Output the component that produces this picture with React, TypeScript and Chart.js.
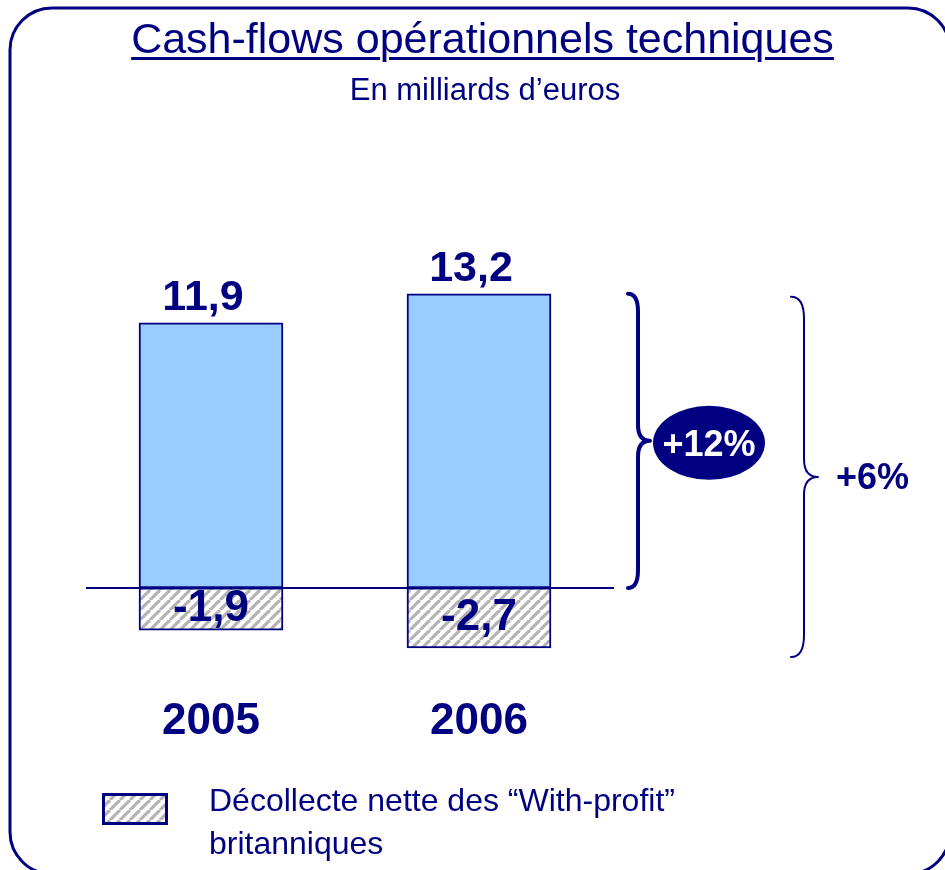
import React, { useEffect, useRef } from "react";
import { Chart, registerables } from "chart.js";

Chart.register(...registerables);

// ---- Data ----
const YEARS = ["2005", "2006"];
const OPERATING_CASH_FLOWS = [11.9, 13.2];
const WITH_PROFIT_OUTFLOWS = [-1.9, -2.7];
const GROWTH_LABELS = ["+12%", "+6%"];
const Y_MIN = -4;
const Y_MAX = 14;

const TITLE = "Cash-flows opérationnels techniques";
const SUBTITLE = "En milliards d\u2019euros";
const LEGEND_LINES = ["Décollecte nette des \u201cWith-profit\u201d", "britanniques"];

const NAVY = "#000080";
const LIGHT_BLUE = "#99CCFF";
const FONT = '"Liberation Sans", Arial, Helvetica, sans-serif';

const fmt = (v: number) => v.toFixed(1).replace(".", ",");

function makeHatch(): CanvasPattern | string {
  const s = 10;
  const c = document.createElement("canvas");
  c.width = s;
  c.height = s;
  const g = c.getContext("2d");
  if (!g) return "#ccc";
  g.fillStyle = "#ffffff";
  g.fillRect(0, 0, s, s);
  g.strokeStyle = "#b4b4b4";
  g.lineWidth = 3.2;
  for (let k = -1; k <= 1; k++) {
    g.beginPath();
    g.moveTo(k * s, s);
    g.lineTo(k * s + s, 0);
    g.stroke();
  }
  const p = g.createPattern(c, "repeat");
  return p || "#ccc";
}

function brace(
  ctx: CanvasRenderingContext2D,
  xL: number,
  xS: number,
  xT: number,
  y1: number,
  y2: number,
  rEnd: number,
  rMid: number,
  lw: number
) {
  const ym = (y1 + y2) / 2;
  ctx.save();
  ctx.strokeStyle = NAVY;
  ctx.lineWidth = lw;
  ctx.lineCap = "round";
  ctx.lineJoin = "round";
  ctx.beginPath();
  ctx.moveTo(xL, y1);
  ctx.quadraticCurveTo(xS, y1, xS, y1 + rEnd);
  ctx.lineTo(xS, ym - rMid);
  ctx.quadraticCurveTo(xS, ym, xT, ym);
  ctx.quadraticCurveTo(xS, ym, xS, ym + rMid);
  ctx.lineTo(xS, y2 - rEnd);
  ctx.quadraticCurveTo(xS, y2, xL, y2);
  ctx.stroke();
  ctx.restore();
}

export default function App() {
  const ref = useRef<HTMLCanvasElement | null>(null);

  useEffect(() => {
    if (!ref.current) return;
    const hatch = makeHatch();

    const decorPlugin = {
      id: "decor",
      beforeDraw(chart: any) {
        const ctx: CanvasRenderingContext2D = chart.ctx;
        ctx.save();
        ctx.fillStyle = "#ffffff";
        ctx.fillRect(0, 0, chart.width, chart.height);
        ctx.strokeStyle = NAVY;
        ctx.lineWidth = 3;
        ctx.beginPath();
        (ctx as any).roundRect(10, 8, 940, 866, 42);
        ctx.stroke();
        ctx.restore();
      },
      afterDatasetsDraw(chart: any) {
        const ctx: CanvasRenderingContext2D = chart.ctx;
        const xs = chart.scales.x;
        const ys = chart.scales.y;
        const area = chart.chartArea;
        const y0 = ys.getPixelForValue(0);

        ctx.save();
        // zero line
        ctx.strokeStyle = NAVY;
        ctx.lineWidth = 2;
        ctx.beginPath();
        ctx.moveTo(area.left + 9, y0);
        ctx.lineTo(area.right + 1, y0);
        ctx.stroke();

        ctx.fillStyle = NAVY;
        ctx.textAlign = "center";
        ctx.textBaseline = "alphabetic";

        // positive labels
        ctx.font = `bold 43px ${FONT}`;
        OPERATING_CASH_FLOWS.forEach((v, i) => {
          const cx = xs.getPixelForValue(i);
          const top = ys.getPixelForValue(v);
          ctx.fillText(fmt(v), cx - 8, top - 13);
        });

        // negative labels
        ctx.font = `bold 44px ${FONT}`;
        WITH_PROFIT_OUTFLOWS.forEach((v, i) => {
          const cx = xs.getPixelForValue(i);
          const bot = ys.getPixelForValue(v);
          const mid = (y0 + bot) / 2;
          ctx.fillText(fmt(v), cx, mid - 3 + 15);
        });

        // category labels
        ctx.font = `bold 44px ${FONT}`;
        const yb = ys.getPixelForValue(Y_MIN);
        YEARS.forEach((lab, i) => {
          ctx.fillText(lab, xs.getPixelForValue(i), yb + 57);
        });

        // growth braces
        const yTop = ys.getPixelForValue(OPERATING_CASH_FLOWS[1]);
        const yNeg = ys.getPixelForValue(WITH_PROFIT_OUTFLOWS[1]);
        const r = area.right;
        brace(ctx, r + 15, r + 25, r + 37, yTop, y0, 18, 16, 4);
        brace(ctx, r + 178, r + 191, r + 205, yTop + 3, yNeg + 9, 22, 18, 2);

        // +12% ellipse
        const m1 = (yTop + y0) / 2 + 2;
        const ex = r + 96;
        ctx.fillStyle = NAVY;
        ctx.beginPath();
        ctx.ellipse(ex, m1, 56, 37, 0, 0, Math.PI * 2);
        ctx.fill();
        ctx.fillStyle = "#ffffff";
        ctx.font = `bold 36px ${FONT}`;
        ctx.textAlign = "center";
        ctx.fillText(GROWTH_LABELS[0], ex, m1 + 13);

        // +6%
        const m2 = (yTop + 3 + yNeg + 9) / 2;
        ctx.fillStyle = NAVY;
        ctx.font = `bold 36px ${FONT}`;
        ctx.textAlign = "left";
        ctx.fillText(GROWTH_LABELS[1], r + 223, m2 + 12);

        // legend swatch
        ctx.fillStyle = hatch as any;
        ctx.fillRect(102, 793, 66, 32);
        ctx.strokeStyle = NAVY;
        ctx.lineWidth = 3;
        ctx.strokeRect(103.5, 794.5, 63, 29);
        ctx.restore();
      },
    };

    const chart = new Chart(ref.current, {
      type: "bar",
      data: {
        labels: YEARS,
        datasets: [
          {
            label: "Cash-flows opérationnels techniques",
            data: OPERATING_CASH_FLOWS,
            backgroundColor: LIGHT_BLUE,
            borderColor: NAVY,
            borderWidth: 2,
            borderSkipped: false,
            barThickness: 144,
          },
          {
            label: LEGEND_LINES.join(" "),
            data: WITH_PROFIT_OUTFLOWS,
            backgroundColor: hatch as any,
            borderColor: NAVY,
            borderWidth: 2,
            borderSkipped: false,
            barThickness: 144,
          },
        ],
      },
      options: {
        responsive: false,
        animation: false,
        devicePixelRatio: 1,
        layout: { padding: { left: 77, right: 332, top: 276, bottom: 193 } },
        plugins: {
          legend: { display: false },
          title: { display: false },
          tooltip: { enabled: false },
        },
        scales: {
          x: { display: false, stacked: true },
          y: { display: false, stacked: true, min: Y_MIN, max: Y_MAX },
        },
      },
      plugins: [decorPlugin],
    });

    return () => chart.destroy();
  }, []);

  return (
    <div style={{ position: "absolute", left: 0, top: 0, width: 945, height: 870, overflow: "hidden", background: "#fff" }}>
      <canvas ref={ref} width={945} height={870} style={{ position: "absolute", left: 0, top: 0, width: 945, height: 870 }} />
      <div
        style={{
          position: "absolute",
          left: 0,
          top: 17,
          width: 965,
          textAlign: "center",
          font: `43px ${FONT}`,
          lineHeight: "43px",
          color: NAVY,
          whiteSpace: "nowrap",
          textDecoration: "underline",
          textDecorationThickness: "3px",
          textUnderlineOffset: "4px",
        }}
      >
        {TITLE}
      </div>
      <div
        style={{
          position: "absolute",
          left: 0,
          top: 74,
          width: 970,
          textAlign: "center",
          font: `31px ${FONT}`,
          lineHeight: "31px",
          color: NAVY,
          whiteSpace: "nowrap",
        }}
      >
        {SUBTITLE}
      </div>
      <div
        style={{
          position: "absolute",
          left: 209,
          top: 779,
          font: `32px ${FONT}`,
          lineHeight: "43px",
          color: NAVY,
          whiteSpace: "nowrap",
        }}
      >
        {LEGEND_LINES[0]}
        <br />
        {LEGEND_LINES[1]}
      </div>
    </div>
  );
}
